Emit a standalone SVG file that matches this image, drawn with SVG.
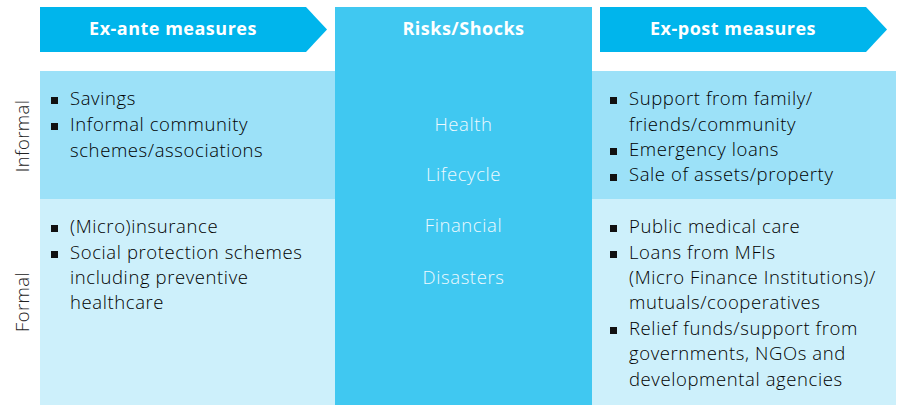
<svg xmlns="http://www.w3.org/2000/svg" width="901" height="405" viewBox="0 0 901 405">
<style>
.hdr{font-family:"Open Sans","Liberation Sans",sans-serif;font-size:18px;font-weight:bold;letter-spacing:0.5px;fill:#ffffff;text-anchor:middle}
.txt{font-family:"Open Sans","Liberation Sans",sans-serif;font-size:18.5px;font-weight:300;letter-spacing:0.6px;fill:#000000}
.risk{font-family:"Open Sans","Liberation Sans",sans-serif;font-size:18.5px;font-weight:300;letter-spacing:0.6px;fill:#eef9fe;text-anchor:middle}
.side{font-family:"Open Sans","Liberation Sans",sans-serif;font-size:18.5px;font-weight:300;letter-spacing:0.4px;fill:#222222;text-anchor:middle}
.arrow{fill:#00b5ec}
.inf{fill:#9ce1f8}
.frm{fill:#cdf0fb}
.mid{fill:#40c8f1}
.b{fill:#111111}
</style>
<rect width="901" height="405" fill="#ffffff"/>
<g id="informal-left"><rect class="inf" x="40" y="71" width="295" height="128"/>
<rect class="b" x="51" y="97" width="7" height="7"/><rect class="b" x="51" y="123" width="7" height="7"/>
<text class="txt" x="70" y="105">Savings</text>
<text class="txt" x="70" y="131">Informal community</text>
<text class="txt" x="70" y="157">schemes/associations</text></g>
<g id="formal-left"><rect class="frm" x="40" y="199" width="295" height="206"/>
<rect class="b" x="51" y="225" width="7" height="7"/><rect class="b" x="51" y="251" width="7" height="7"/>
<text class="txt" x="70" y="233">(Micro)insurance</text>
<text class="txt" x="70" y="259">Social protection schemes</text>
<text class="txt" x="70" y="284">including preventive</text>
<text class="txt" x="70" y="309">healthcare</text></g>
<g id="risks"><rect class="mid" x="335" y="7" width="257" height="398"/>
<text class="hdr" x="463.5" y="35">Risks/Shocks</text>
<text class="risk" x="463.5" y="131">Health</text>
<text class="risk" x="463.5" y="181">Lifecycle</text>
<text class="risk" x="463.5" y="232">Financial</text>
<text class="risk" x="463.5" y="284">Disasters</text></g>
<g id="informal-right"><rect class="inf" x="592" y="71" width="304" height="128"/>
<rect class="b" x="610" y="97" width="7" height="7"/><rect class="b" x="610" y="148" width="7" height="7"/><rect class="b" x="610" y="174" width="7" height="7"/>
<text class="txt" x="629" y="105">Support from family/</text>
<text class="txt" x="629" y="131">friends/community</text>
<text class="txt" x="629" y="156">Emergency loans</text>
<text class="txt" x="629" y="181">Sale of assets/property</text></g>
<g id="formal-right"><rect class="frm" x="592" y="199" width="304" height="206"/>
<rect class="b" x="610" y="225" width="7" height="7"/><rect class="b" x="610" y="251" width="7" height="7"/><rect class="b" x="610" y="327" width="7" height="7"/>
<text class="txt" x="629" y="233">Public medical care</text>
<text class="txt" x="629" y="259">Loans from MFIs</text>
<text class="txt" x="629" y="284">(Micro Finance Institutions)/</text>
<text class="txt" x="629" y="309">mutuals/cooperatives</text>
<text class="txt" x="629" y="335">Relief funds/support from</text>
<text class="txt" x="629" y="360">governments, NGOs and</text>
<text class="txt" x="629" y="386">developmental agencies</text></g>
<g id="ex-ante"><polygon class="arrow" points="40,7 306,7 327,29.5 306,52 40,52"/>
<text class="hdr" x="173" y="35">Ex-ante measures</text></g>
<g id="ex-post"><polygon class="arrow" points="600,7 866,7 887,29.5 866,52 600,52"/>
<text class="hdr" x="733" y="35">Ex-post measures</text></g>
<g id="labels">
<text class="side" transform="translate(29,136) rotate(-90)">Informal</text>
<text class="side" transform="translate(29,302) rotate(-90)">Formal</text></g>
<g id="connectors"/>
</svg>
